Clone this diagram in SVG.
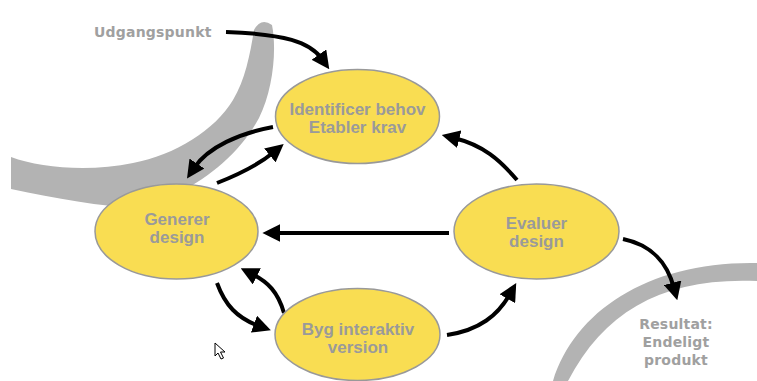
<svg xmlns="http://www.w3.org/2000/svg" width="757" height="381" viewBox="0 0 757 381">
<style>
.node ellipse{fill:#f9dd52;stroke:#999;stroke-width:1.5}
.lbl{font-family:"Liberation Sans",Arial,sans-serif;font-weight:bold;font-size:17px;fill:#9a9a9a;text-anchor:middle}
.side{font-family:"DejaVu Sans",Verdana,sans-serif;font-weight:bold;font-size:14px;fill:#a0a0a0;letter-spacing:0.2px}
.conn path{fill:none;stroke:#000;stroke-width:4;marker-end:url(#ah)}
.swoosh{fill:#b3b3b3}
</style>
<defs>
<marker id="ah" viewBox="0 0 10 10" refX="3" refY="5" markerWidth="4.5" markerHeight="4.5" orient="auto" markerUnits="strokeWidth">
<path d="M0,0 L10,5 L0,10 Z" fill="#000"/>
</marker>
</defs>
<rect width="757" height="381" fill="#fff"/>
<g id="backdrop">
<path class="swoosh" d="M11,157 C40,168 90,172 133,163 C175,155 215,130 233,100 C245,80 250,55 254,30 Q261,17 272,25 C277,50 273,90 259,118 C242,150 212,176 180,192 L150,207 C110,209 60,199 11,189 Z"/>
<path class="swoosh" d="M553,381 C575,310 650,261 757,263 L757,281 C665,277 605,310 568,381 Z"/>
</g>
<g id="udgangspunkt"><text class="side" x="94" y="37">Udgangspunkt</text></g>
<g id="resultat">
<text class="side" x="676" y="329" text-anchor="middle">Resultat:</text>
<text class="side" x="676" y="347" text-anchor="middle">Endeligt</text>
<text class="side" x="676" y="365" text-anchor="middle">produkt</text>
</g>
<g class="conn" id="connectors">
<path d="M226,32 C285,34 310,42 322,59"/>
<path d="M273,127 C240,133 208,147 194,168"/>
<path d="M217,183 C245,172 262,162 274,152"/>
<path d="M517,180 C500,160 483,145 454,138"/>
<path d="M449,233 L275,233"/>
<path d="M217,283 C225,305 237,318 259,326"/>
<path d="M284,313 C278,292 268,282 252,274"/>
<path d="M447,335 C480,330 498,315 510,294"/>
<path d="M623,239 C652,245 667,262 674,288"/>
</g>
<g id="identificer" class="node">
<ellipse cx="357.5" cy="116.5" rx="82" ry="47"/>
<text class="lbl" x="357.5" y="115">Identificer behov</text>
<text class="lbl" x="357.5" y="133">Etabler krav</text>
</g>
<g id="generer" class="node">
<ellipse cx="176.5" cy="231.5" rx="81.5" ry="47.5"/>
<text class="lbl" x="177" y="225">Generer</text>
<text class="lbl" x="177" y="243">design</text>
</g>
<g id="evaluer" class="node">
<ellipse cx="536.5" cy="231.5" rx="82.5" ry="47.5"/>
<text class="lbl" x="536.5" y="229">Evaluer</text>
<text class="lbl" x="536.5" y="247">design</text>
</g>
<g id="byg" class="node">
<ellipse cx="357.5" cy="334.5" rx="82.5" ry="46"/>
<text class="lbl" x="358" y="335">Byg interaktiv</text>
<text class="lbl" x="358" y="353">version</text>
</g>
<g id="cursor">
<path d="M215,343 L215,356 L218,353 L221,359 L223.5,358 L220.5,352 L225,352 Z" fill="#fff" stroke="#000" stroke-width="1"/>
</g>
</svg>
